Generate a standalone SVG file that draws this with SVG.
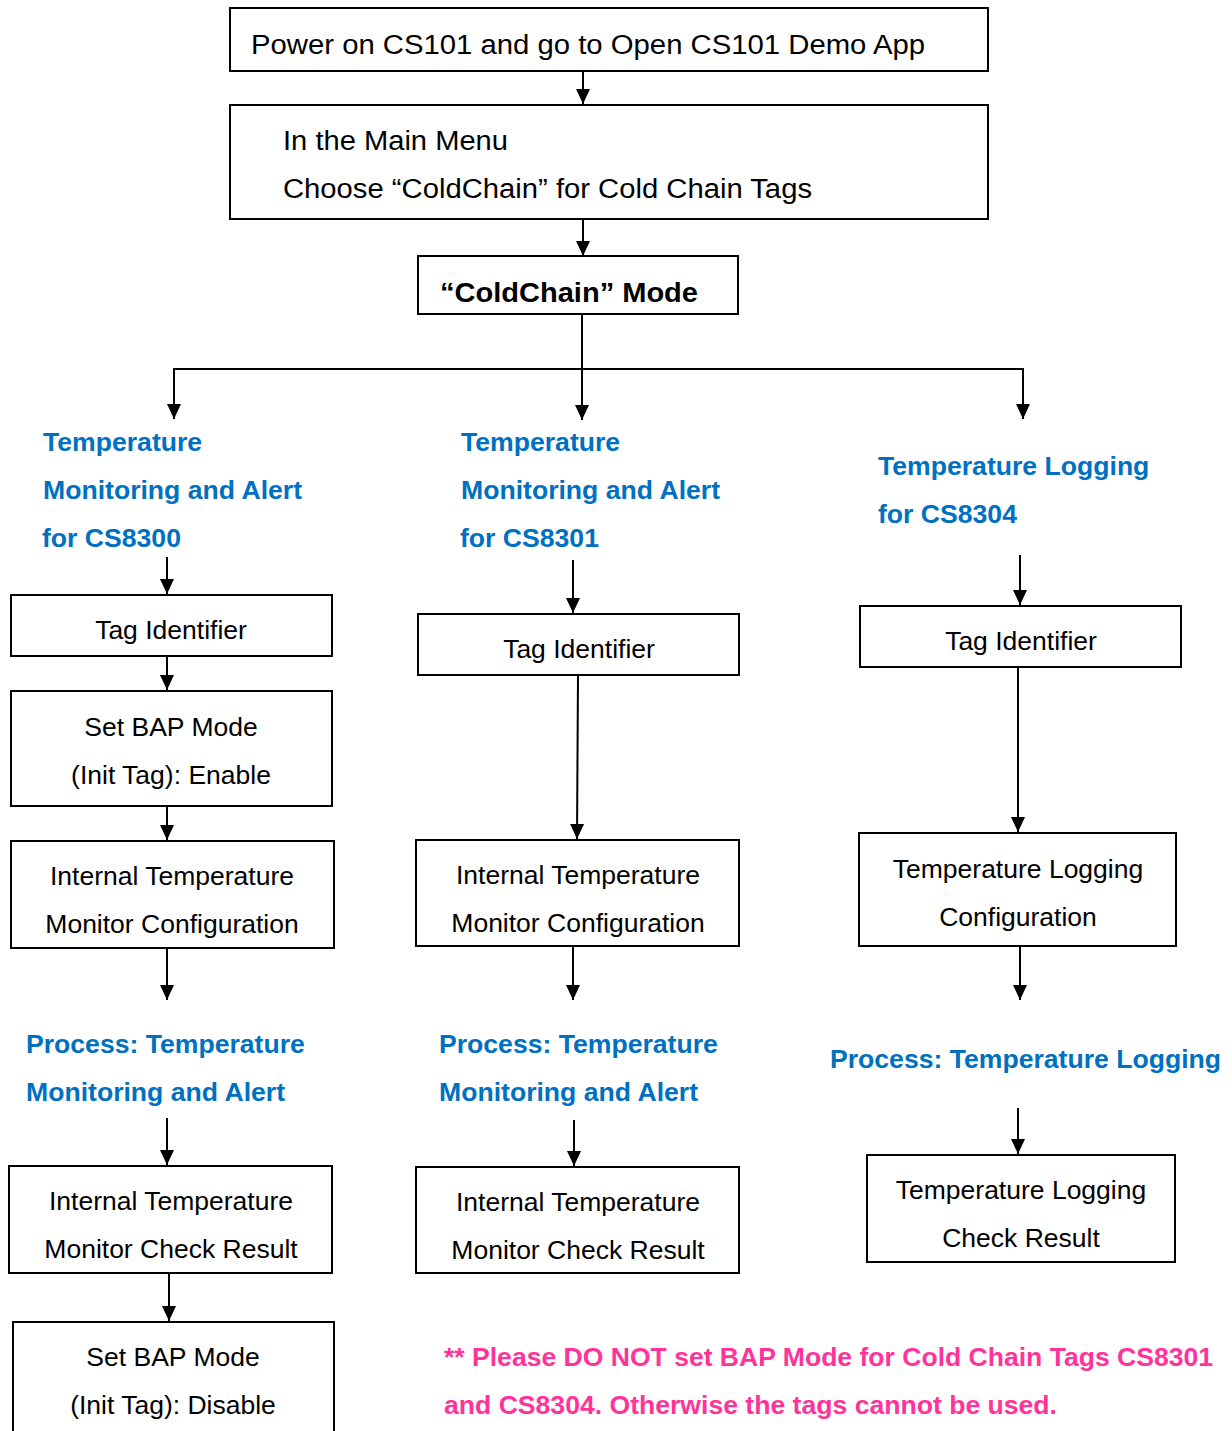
<svg xmlns="http://www.w3.org/2000/svg" width="1232" height="1431" viewBox="0 0 1232 1431">
<style>
.box{fill:#fff;stroke:#000;stroke-width:2}
.t{font-family:"Liberation Sans",Arial,sans-serif;font-size:26.5px;fill:#000}
.c{text-anchor:middle}
.b{font-family:"Liberation Sans",Arial,sans-serif;font-size:26.6px;font-weight:bold;fill:#0070C0}
.p{font-family:"Liberation Sans",Arial,sans-serif;font-size:25px;font-weight:bold;fill:#FF3399}
.ln{fill:none;stroke:#000;stroke-width:2}
.ar{fill:none;stroke:#000;stroke-width:2;marker-end:url(#ah)}
</style>
<defs>
<marker id="ah" markerUnits="userSpaceOnUse" markerWidth="16" markerHeight="16" viewBox="0 0 16 16" refX="15" refY="8" orient="auto">
<path d="M0,1 L15,8 L0,15 Z" fill="#000"/>
</marker>
</defs>
<rect width="1232" height="1431" fill="#fff"/>
<g id="connectors">
<line class="ar" x1="583" y1="72" x2="583" y2="104"/>
<line class="ar" x1="583" y1="219" x2="583" y2="256"/>
<line class="ar" x1="582" y1="314" x2="582" y2="420"/>
<polyline class="ln" points="174,369 1023,369"/>
<line class="ar" x1="174" y1="368" x2="174" y2="419"/>
<line class="ar" x1="1023" y1="368" x2="1023" y2="419"/>
<line class="ar" x1="167" y1="557" x2="167" y2="594"/>
<line class="ar" x1="167" y1="657" x2="167" y2="690"/>
<line class="ar" x1="167" y1="806" x2="167" y2="840"/>
<line class="ar" x1="167" y1="948" x2="167" y2="1000"/>
<line class="ar" x1="167" y1="1118" x2="167" y2="1165"/>
<line class="ar" x1="169" y1="1274" x2="169" y2="1321"/>
<line class="ar" x1="573" y1="560" x2="573" y2="613"/>
<line class="ar" x1="578" y1="676" x2="577" y2="839"/>
<line class="ar" x1="573" y1="947" x2="573" y2="1000"/>
<line class="ar" x1="574" y1="1120" x2="574" y2="1166"/>
<line class="ar" x1="1020" y1="555" x2="1020" y2="605"/>
<line class="ar" x1="1018" y1="667" x2="1018" y2="832"/>
<line class="ar" x1="1020" y1="947" x2="1020" y2="1000"/>
<line class="ar" x1="1018" y1="1108" x2="1018" y2="1154"/>
</g>
<g id="n-power"><rect class="box" x="230" y="8" width="758" height="63"/>
<text class="t" x="251" y="54" style="font-size:27px" textLength="674" lengthAdjust="spacingAndGlyphs">Power on CS101 and go to Open CS101 Demo App</text></g>
<g id="n-menu"><rect class="box" x="230" y="105" width="758" height="114"/>
<text class="t" x="283" y="150" style="font-size:27px" textLength="225" lengthAdjust="spacingAndGlyphs">In the Main Menu</text>
<text class="t" x="283" y="198" style="font-size:27px" textLength="529" lengthAdjust="spacingAndGlyphs">Choose “ColdChain” for Cold Chain Tags</text></g>
<g id="n-mode"><rect class="box" x="418" y="256" width="320" height="58"/>
<text class="t" x="440" y="302" style="font-size:27px;font-weight:bold" textLength="258" lengthAdjust="spacingAndGlyphs">“ColdChain” Mode</text></g>

<g id="h-cs8300"><text class="b" x="43" y="451">Temperature</text><text class="b" x="43" y="499">Monitoring and Alert</text><text class="b" x="42" y="547">for CS8300</text></g>
<g id="h-cs8301"><text class="b" x="461" y="451">Temperature</text><text class="b" x="461" y="499">Monitoring and Alert</text><text class="b" x="460" y="547">for CS8301</text></g>
<g id="h-cs8304"><text class="b" x="878" y="475">Temperature Logging</text><text class="b" x="878" y="523">for CS8304</text></g>

<g id="n1-tag"><rect class="box" x="11" y="595" width="321" height="61"/><text class="t c" x="171" y="639">Tag Identifier</text></g>
<g id="n1-bap"><rect class="box" x="11" y="691" width="321" height="115"/><text class="t c" x="171" y="736">Set BAP Mode</text><text class="t c" x="171" y="784">(Init Tag): Enable</text></g>
<g id="n1-cfg"><rect class="box" x="11" y="841" width="323" height="107"/><text class="t c" x="172" y="885">Internal Temperature</text><text class="t c" x="172" y="933">Monitor Configuration</text></g>
<g id="p1"><text class="b" x="26" y="1053">Process: Temperature</text><text class="b" x="26" y="1101">Monitoring and Alert</text></g>
<g id="n1-res"><rect class="box" x="9" y="1166" width="323" height="107"/><text class="t c" x="171" y="1210">Internal Temperature</text><text class="t c" x="171" y="1258">Monitor Check Result</text></g>
<g id="n1-bap2"><rect class="box" x="13" y="1322" width="321" height="120"/><text class="t c" x="173" y="1366">Set BAP Mode</text><text class="t c" x="173" y="1414">(Init Tag): Disable</text></g>

<g id="n2-tag"><rect class="box" x="418" y="614" width="321" height="61"/><text class="t c" x="579" y="658">Tag Identifier</text></g>
<g id="n2-cfg"><rect class="box" x="416" y="840" width="323" height="106"/><text class="t c" x="578" y="884">Internal Temperature</text><text class="t c" x="578" y="932">Monitor Configuration</text></g>
<g id="p2"><text class="b" x="439" y="1053">Process: Temperature</text><text class="b" x="439" y="1101">Monitoring and Alert</text></g>
<g id="n2-res"><rect class="box" x="416" y="1167" width="323" height="106"/><text class="t c" x="578" y="1211">Internal Temperature</text><text class="t c" x="578" y="1259">Monitor Check Result</text></g>

<g id="n3-tag"><rect class="box" x="860" y="606" width="321" height="61"/><text class="t c" x="1021" y="650">Tag Identifier</text></g>
<g id="n3-cfg"><rect class="box" x="859" y="833" width="317" height="113"/><text class="t c" x="1018" y="878">Temperature Logging</text><text class="t c" x="1018" y="926">Configuration</text></g>
<g id="p3"><text class="b" x="830" y="1068">Process: Temperature Logging</text></g>
<g id="n3-res"><rect class="box" x="867" y="1155" width="308" height="107"/><text class="t c" x="1021" y="1199">Temperature Logging</text><text class="t c" x="1021" y="1247">Check Result</text></g>

<g id="note"><text class="p" x="444" y="1366" textLength="769" lengthAdjust="spacingAndGlyphs">** Please DO NOT set BAP Mode for Cold Chain Tags CS8301</text>
<text class="p" x="444" y="1414" textLength="613" lengthAdjust="spacingAndGlyphs">and CS8304. Otherwise the tags cannot be used.</text></g>
</svg>
